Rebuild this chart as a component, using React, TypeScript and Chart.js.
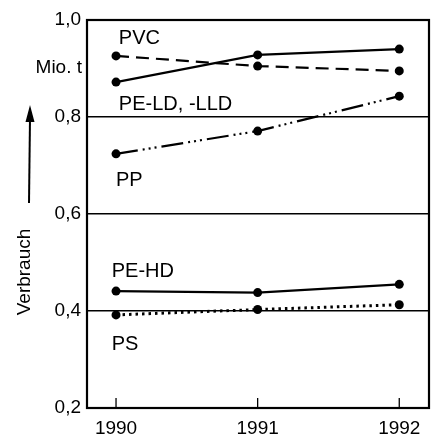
import React, { useEffect, useRef } from "react";
import { Chart, registerables } from "chart.js";

Chart.register(...registerables);

const years = [1990, 1991, 1992];
const yTicks = [0.2, 0.4, 0.6, 0.8, 1.0];
const pvc = [0.926, 0.905, 0.895];
const peLd = [0.872, 0.928, 0.94];
const pp = [0.724, 0.771, 0.843];
const peHd = [0.441, 0.438, 0.455];
const ps = [0.392, 0.403, 0.413];

const seriesLabels = [
  { text: "PVC", x: 1990.02, y: 0.95 },
  { text: "PE-LD, -LLD", x: 1990.02, y: 0.815 },
  { text: "PP", x: 1990.0, y: 0.658 },
  { text: "PE-HD", x: 1989.97, y: 0.47 },
  { text: "PS", x: 1989.97, y: 0.32 },
];

const FONT = "'Liberation Sans', Arial, Helvetica, sans-serif";

export default function App() {
  const ref = useRef<HTMLCanvasElement | null>(null);

  useEffect(() => {
    const canvas = ref.current;
    if (!canvas) return;

    const toPts = (arr: number[]) => years.map((x, i) => ({ x, y: arr[i] }));
    const base = {
      borderColor: "#000",
      backgroundColor: "#000",
      pointBackgroundColor: "#000",
      pointBorderColor: "#000",
      pointRadius: 4.5,
      pointBorderWidth: 0,
      borderWidth: 2.2,
      tension: 0,
      fill: false,
    };

    const decor = {
      id: "decor",
      afterDraw(chart: any) {
        const ctx = chart.ctx;
        const a = chart.chartArea;
        const xs = chart.scales.x;
        const ys = chart.scales.y;
        ctx.save();
        ctx.strokeStyle = "#000";
        ctx.fillStyle = "#000";
        ctx.lineWidth = 2.2;
        ctx.strokeRect(a.left, a.top, a.right - a.left, a.bottom - a.top);
        // x tick marks (inside)
        ctx.lineWidth = 1.3;
        years.forEach((yr) => {
          const px = xs.getPixelForValue(yr);
          ctx.beginPath();
          ctx.moveTo(px, a.bottom);
          ctx.lineTo(px, a.bottom - 10);
          ctx.stroke();
        });
        // series labels
        ctx.font = `20px ${FONT}`;
        ctx.textAlign = "left";
        ctx.textBaseline = "alphabetic";
        seriesLabels.forEach((l) => {
          ctx.fillText(l.text, xs.getPixelForValue(l.x), ys.getPixelForValue(l.y));
        });
        // unit
        ctx.font = `19px ${FONT}`;
        ctx.textAlign = "right";
        ctx.fillText("Mio. t", 82, 73);
        // axis title rotated
        ctx.save();
        ctx.translate(25, 272);
        ctx.rotate(-Math.PI / 2);
        ctx.textAlign = "center";
        ctx.textBaseline = "middle";
        ctx.fillText("Verbrauch", 0, 0);
        ctx.restore();
        // arrow
        ctx.lineWidth = 2;
        ctx.beginPath();
        ctx.moveTo(29, 203);
        ctx.lineTo(30, 118);
        ctx.stroke();
        ctx.beginPath();
        ctx.moveTo(30, 105);
        ctx.lineTo(25.5, 122);
        ctx.lineTo(34.5, 122);
        ctx.closePath();
        ctx.fill();
        ctx.restore();
      },
    };

    const chart = new Chart(canvas, {
      type: "line",
      data: {
        datasets: [
          { ...base, label: "PVC", data: toPts(pvc), borderDash: [13, 7] },
          { ...base, label: "PE-LD, -LLD", data: toPts(peLd) },
          { ...base, label: "PP", data: toPts(pp), borderDash: [22, 5, 2, 4, 2, 4, 2, 5] },
          { ...base, label: "PE-HD", data: toPts(peHd) },
          { ...base, label: "PS", data: toPts(ps), borderDash: [2.5, 4], borderWidth: 3 },
        ] as any,
      },
      options: {
        animation: false,
        responsive: false,
        layout: { padding: { top: 20, right: 11, left: 0, bottom: 0 } },
        plugins: { legend: { display: false }, tooltip: { enabled: false } },
        scales: {
          x: {
            type: "linear",
            min: 1989.795,
            max: 1992.21,
            afterBuildTicks: (s: any) => {
              s.ticks = years.map((v) => ({ value: v }));
            },
            afterFit: (s: any) => {
              s.height = 40;
            },
            grid: { display: false, drawTicks: false },
            border: { display: false },
            ticks: {
              color: "#000",
              font: { family: FONT, size: 19 },
              padding: 9,
              maxRotation: 0,
              autoSkip: false,
              callback: (v: any) => String(v),
            },
          },
          y: {
            type: "linear",
            min: 0.2,
            max: 1.0,
            afterBuildTicks: (s: any) => {
              s.ticks = yTicks.map((v) => ({ value: v }));
            },
            afterFit: (s: any) => {
              s.width = 87;
            },
            grid: { color: "#000", lineWidth: 1.5, drawTicks: false },
            border: { display: false },
            ticks: {
              color: "#000",
              font: { family: FONT, size: 19 },
              padding: 6,
              callback: (v: any) => Number(v).toFixed(1).replace(".", ","),
            },
          },
        },
      },
      plugins: [decor],
    });
    return () => chart.destroy();
  }, []);

  return (
    <div style={{ position: "fixed", left: 0, top: 0, width: 440, height: 448, background: "#fff" }}>
      <canvas ref={ref} width={440} height={448} style={{ display: "block" }} />
    </div>
  );
}
